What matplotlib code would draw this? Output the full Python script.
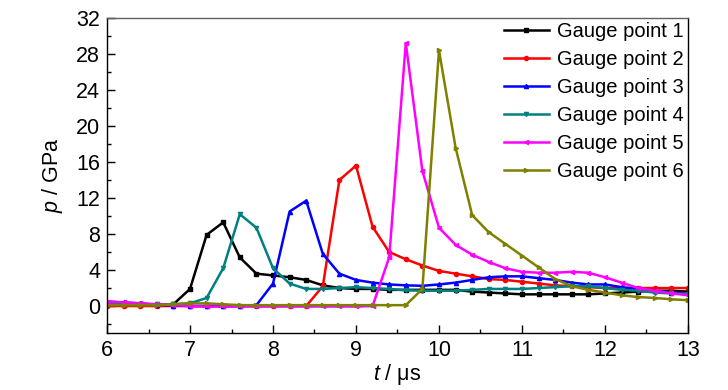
import matplotlib
matplotlib.use('Agg')
import matplotlib.pyplot as plt
from matplotlib.ticker import MultipleLocator

plt.rcParams['font.family'] = ['Liberation Sans', 'DejaVu Sans']
plt.rcParams['mathtext.fontset'] = 'custom'
plt.rcParams['mathtext.it'] = 'Liberation Sans:italic'
plt.rcParams['mathtext.rm'] = 'Liberation Sans'

# time samples (us)
t = [6.0, 6.2, 6.4, 6.6, 6.8, 7.0, 7.2, 7.4, 7.6, 7.8, 8.0, 8.2, 8.4, 8.6, 8.8, 9.0,
     9.2, 9.4, 9.6, 9.8, 10.0, 10.2, 10.4, 10.6, 10.8, 11.0, 11.2, 11.4, 11.6, 11.8,
     12.0, 12.2, 12.4, 12.6, 12.8, 13.0]

# pressure (GPa) at each gauge point
gauge1 = [0.1, 0.1, 0.1, 0.1, 0.2, 1.9, 7.9, 9.3, 5.4, 3.6, 3.4, 3.2, 2.9, 2.3, 2.0, 1.9,
          1.9, 1.8, 1.8, 1.8, 1.8, 1.8, 1.6, 1.5, 1.4, 1.3, 1.3, 1.3, 1.3, 1.3,
          1.4, 1.5, 1.6, 1.7, 1.7, 1.6]
gauge2 = [0.0, 0.0, 0.0, 0.0, 0.0, 0.0, 0.0, 0.0, 0.0, 0.0, 0.0, 0.0, 0.0, 2.2, 14.0, 15.6,
          8.8, 6.0, 5.2, 4.5, 3.9, 3.6, 3.3, 3.0, 2.9, 2.7, 2.5, 2.3, 2.2, 2.1,
          2.0, 2.0, 2.0, 2.0, 2.0, 2.0]
gauge3 = [0.5, 0.4, 0.3, 0.15, 0.05, 0.0, 0.0, 0.0, 0.0, 0.1, 2.5, 10.5, 11.7, 5.8, 3.6, 2.9,
          2.6, 2.4, 2.3, 2.25, 2.4, 2.6, 2.9, 3.2, 3.3, 3.3, 3.1, 2.9, 2.6, 2.4,
          2.4, 2.1, 1.9, 1.7, 1.5, 1.4]
gauge4 = [0.2, 0.2, 0.2, 0.2, 0.2, 0.3, 0.9, 4.2, 10.2, 8.7, 4.2, 2.5, 1.9, 1.9, 2.0, 2.1,
          2.0, 1.9, 1.75, 1.7, 1.7, 1.7, 1.8, 1.9, 1.9, 1.9, 2.0, 2.1, 2.2, 2.2,
          2.0, 1.8, 1.7, 1.5, 1.4, 1.35]
gauge5 = [0.5, 0.4, 0.3, 0.2, 0.1, 0.0, -0.05, -0.05, -0.05, -0.05, -0.05, -0.05, -0.05, -0.05, -0.05, -0.05,
          0.0, 5.4, 29.2, 15.0, 8.7, 6.8, 5.7, 4.9, 4.2, 3.8, 3.7, 3.7, 3.8, 3.7,
          3.2, 2.6, 2.0, 1.7, 1.4, 1.2]
gauge6 = [0.1, 0.1, 0.1, 0.1, 0.2, 0.3, 0.3, 0.2, 0.1, 0.1, 0.1, 0.1, 0.1, 0.1, 0.1, 0.1,
          0.1, 0.1, 0.1, 1.9, 28.4, 17.6, 10.1, 8.2, 6.9, 5.6, 4.3, 3.0, 2.2, 1.8,
          1.5, 1.2, 1.0, 0.9, 0.75, 0.65]

series = [gauge1, gauge2, gauge3, gauge4, gauge5, gauge6]
labels = ['Gauge point 1', 'Gauge point 2', 'Gauge point 3',
          'Gauge point 4', 'Gauge point 5', 'Gauge point 6']
colors = ['#000000', '#FF0000', '#0000FF', '#008080', '#FF00FF', '#808000']
markers = ['s', 'o', '^', 'v', '<', '>']

fig = plt.figure(figsize=(7.28, 3.9), dpi=100)
ax = fig.add_axes([0.147, 0.146, 0.798, 0.808])

for y, lab, c, m in zip(series, labels, colors, markers):
    ax.plot(t, y, color=c, marker=m, markersize=3, linewidth=1.8, label=lab)

ax.set_xlim(6, 13)
ax.set_ylim(-3, 32)
ax.xaxis.set_major_locator(MultipleLocator(1))
ax.xaxis.set_minor_locator(MultipleLocator(0.5))
ax.yaxis.set_major_locator(MultipleLocator(4))
ax.yaxis.set_minor_locator(MultipleLocator(2))
ax.tick_params(which='both', direction='in', labelsize=15.5, top=False, right=False)
ax.tick_params(which='major', length=6, width=1, pad=5)
ax.tick_params(which='minor', length=3, width=1)
for s in ax.spines.values():
    s.set_linewidth(1.0)
ax.spines['top'].set_color('#606060')

ax.set_xlabel(r'$\mathit{t}$ / $\mathrm{\mu}$s', fontsize=15.5, labelpad=1)
ax.set_ylabel(r'$\mathit{p}$ / GPa', fontsize=15.5, labelpad=8)

ax.legend(loc='upper right', bbox_to_anchor=(1.0, 1.0), frameon=False,
          fontsize=14.5, handlelength=2.25, labelspacing=0.45,
          borderaxespad=0.0, borderpad=0.2, handletextpad=0.4)

fig.savefig('out.png', dpi=100)
